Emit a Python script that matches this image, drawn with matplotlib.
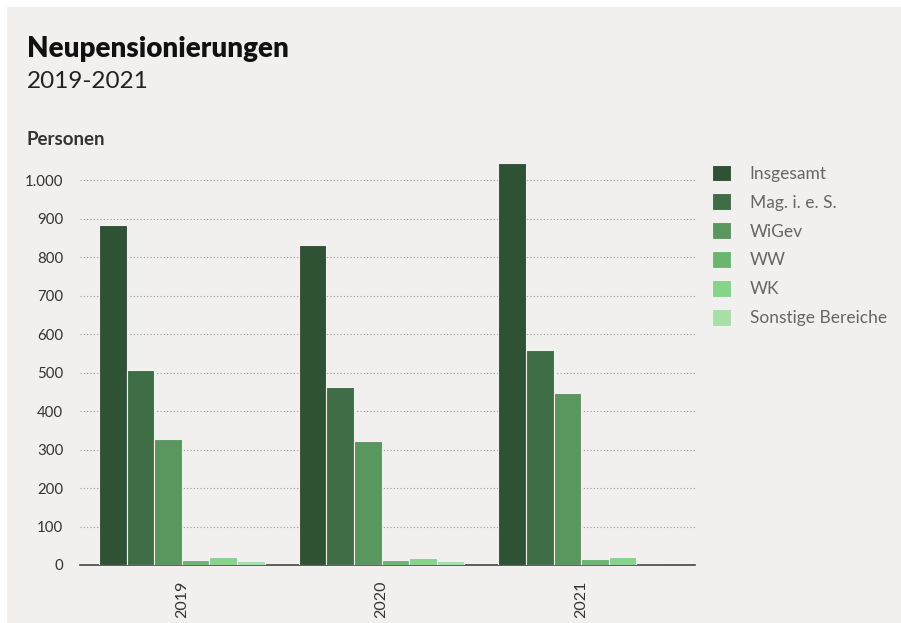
import numpy as np
import matplotlib
matplotlib.use("Agg")
import matplotlib.pyplot as plt
from matplotlib.patches import Rectangle

plt.rcParams['font.family'] = ['Lato', 'DejaVu Sans']

# data
years = ['2019', '2020', '2021']
series = ['Insgesamt', 'Mag. i. e. S.', 'WiGev', 'WW', 'WK', 'Sonstige Bereiche']
insgesamt = [883, 831, 1044]
mag = [507, 462, 558]
wigev = [327, 322, 447]
ww = [14, 14, 16]
wk = [20, 19, 20]
sonstige = [10, 11, 0]
values = [insgesamt, mag, wigev, ww, wk, sonstige]
colors = ['#2f5235', '#3f6e46', '#5a975f', '#6bb56f', '#86d38a', '#a7dfa6']

bg = '#f1f0ef'
fig = plt.figure(figsize=(9.01, 6.23), dpi=100, facecolor='white')
fig.patches.append(Rectangle((7 / 901, 0), 1, 1 - 7 / 623, transform=fig.transFigure,
                             facecolor=bg, edgecolor='none', zorder=-10))

ax = fig.add_axes([80 / 901, 1 - 565 / 623, 615 / 901, 408 / 623])
ax.set_facecolor(bg)

x = np.arange(len(years))
w = 0.1385
for i, (name, vals) in enumerate(zip(series, values)):
    ax.bar(x + (i - 2.5) * w, vals, width=w, color=colors[i], label=name,
           edgecolor=bg, linewidth=0.8, zorder=3)

ax.set_xlim(-0.51, 2.57)
ax.set_ylim(0, 1060)
ax.set_yticks(range(0, 1001, 100))
ax.set_yticklabels([f'{v:,}'.replace(',', '.') for v in range(0, 1001, 100)])
ax.yaxis.grid(True, linestyle=(0, (1, 2)), color='#999999', linewidth=0.8)
ax.set_axisbelow(True)
for s in ['top', 'right', 'left']:
    ax.spines[s].set_visible(False)
ax.spines['bottom'].set_color('#444444')
ax.spines['bottom'].set_linewidth(1.2)
ax.set_xticks(x)
ax.set_xticklabels(years, rotation=90)
ax.tick_params(axis='both', length=0, labelsize=10.8, colors='#333333')
ax.tick_params(axis='x', labelsize=11.5, pad=11)
ax.tick_params(axis='y', pad=12)

ax.legend(loc='upper left', bbox_to_anchor=(696 / 901, 1 - 149 / 623),
          bbox_transform=fig.transFigure, frameon=False, fontsize=12.5,
          handlelength=1.1, handleheight=1.1, labelspacing=0.67,
          handletextpad=1.1, labelcolor='#666666')

fig.text(27 / 901, 1 - 57 / 623, 'Neupensionierungen', fontsize=20,
         fontweight='heavy', color='#111111')
fig.text(27 / 901, 1 - 88 / 623, '2019-2021', fontsize=17.5, color='#222222')
fig.text(27 / 901, 1 - 145 / 623, 'Personen', fontsize=13.5, fontweight='bold',
         color='#333333')

fig.savefig('out.png', dpi=100, facecolor=fig.get_facecolor())
